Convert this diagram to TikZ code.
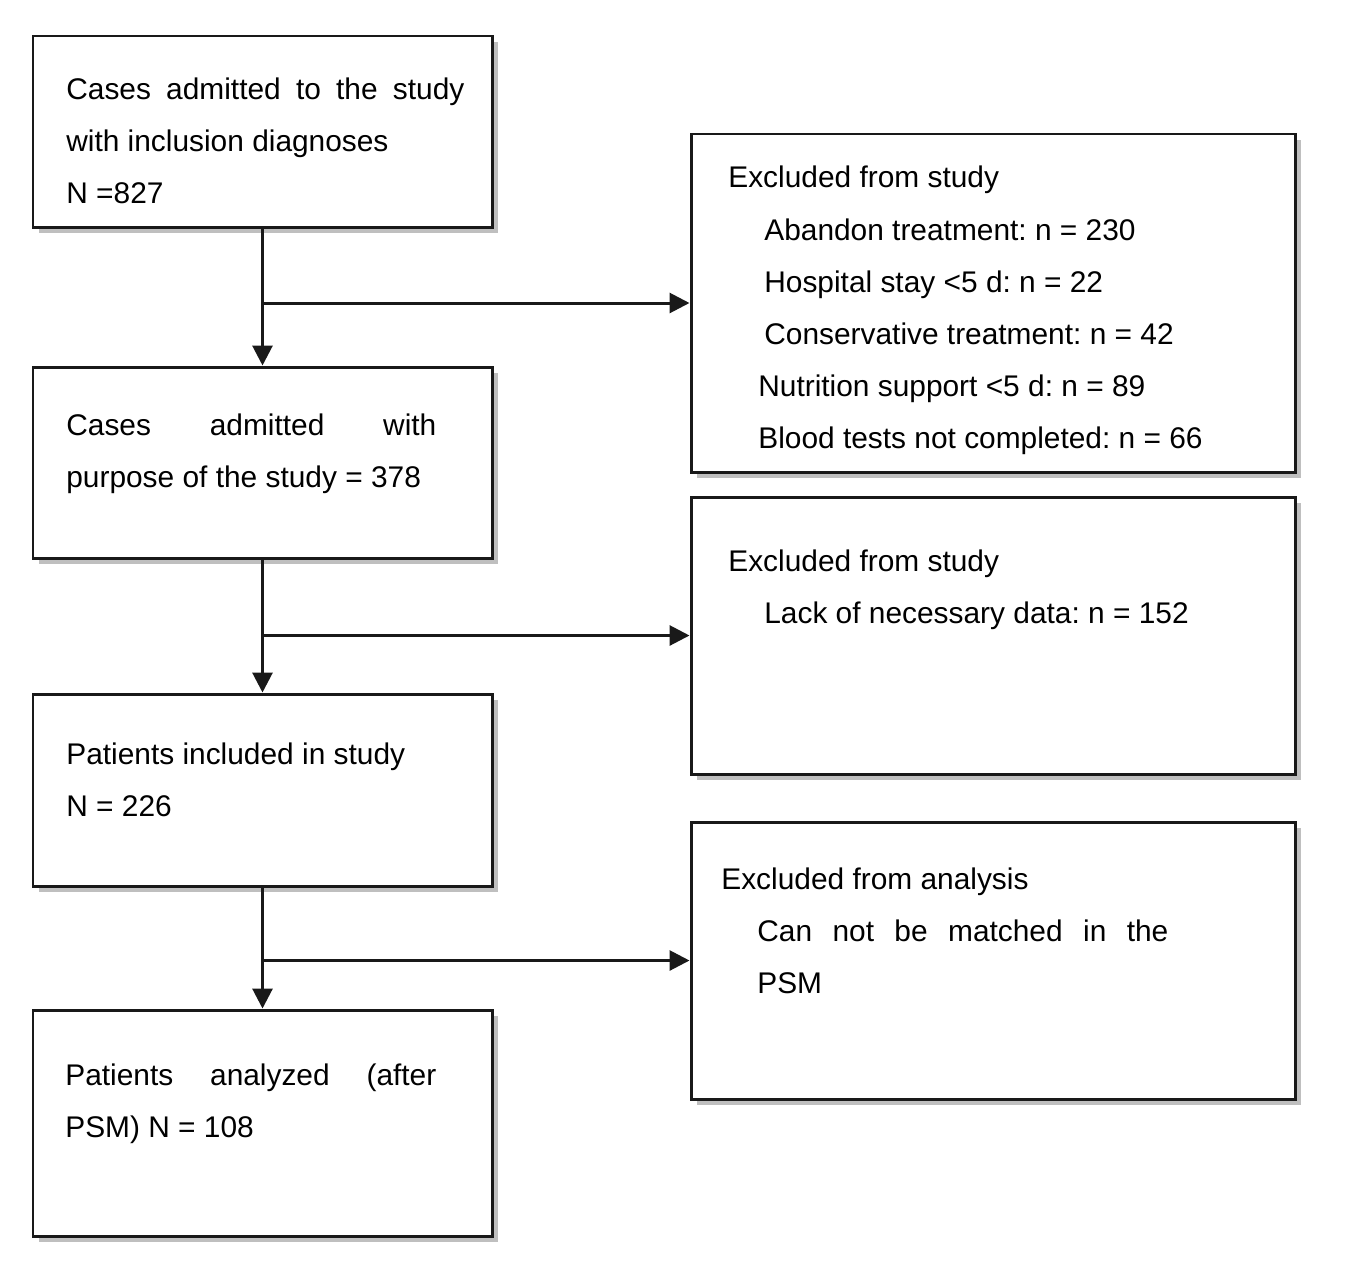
\documentclass[tikz,border=0pt]{standalone}
\usepackage{fontspec}
\setmainfont{Liberation Sans}
\usetikzlibrary{arrows.meta,shadows}
\frenchspacing

\begin{document}
\begin{tikzpicture}[x=0.2mm,y=-0.2mm,
  box/.style={rectangle,draw=black!90,line width=1.7pt,fill=white,minimum width=91.8mm,
    drop shadow={shadow xshift=1.2mm,shadow yshift=-1.2mm,opacity=0.5}},
  wide/.style={box,minimum width=120.8mm},
  txt/.style={anchor=base west,inner sep=0pt,align=left,font=\fontsize{17}{29.5}\selectfont,text=black},
  arr/.style={line width=1.7pt,draw=black!90,-{Triangle[length=4mm,width=4mm]}}]
\useasboundingbox (0,0) rectangle (1346,1286);
% left column
\node[box,minimum height=38.2mm] (B1) at (262.5,131.5) {};
\node[box,minimum height=38.2mm] (B2) at (262.5,462.5) {};
\node[box,minimum height=38.4mm] (B3) at (262.5,790) {};
\node[box,minimum height=45.2mm] (B4) at (262.5,1123) {};
% right column
\node[wide,minimum height=67.6mm] (X1) at (993,303) {};
\node[wide,minimum height=55.4mm] (X2) at (993,635.5) {};
\node[wide,minimum height=55.4mm] (X3) at (993,960.5) {};
% texts (anchored on the last line)
\node[txt] (T1) at (66,203) {\makebox[79.6mm][s]{Cases admitted to the study}\\with inclusion diagnoses\\N =827};
\node[txt] (T2) at (66,487) {\makebox[74mm][s]{Cases admitted with}\\purpose of the study = 378};
\node[txt] (T3) at (66,816) {Patients included in study\\N = 226};
\node[txt] (T4) at (65,1137) {\makebox[74.2mm][s]{Patients analyzed (after}\\PSM) N = 108};
\node[txt] (E1) at (728,187) {Excluded from study};
\node[txt] (E1a) at (764,344) {Abandon treatment: n = 230\\Hospital stay <5 d: n = 22\\Conservative treatment: n = 42};
\node[txt] (E1b) at (758,448) {Nutrition support <5 d: n = 89\\Blood tests not completed: n = 66};
\node[txt] (E2) at (728,571) {Excluded from study};
\node[txt] (E2a) at (764,623) {Lack of necessary data: n = 152};
\node[txt] (E3) at (721,889) {Excluded from analysis};
\node[txt] (E3a) at (757,993) {\makebox[82.2mm][s]{Can not be matched in the}\\PSM};
% junctions
\coordinate (J1) at (B1.south |- X1.west);
\coordinate (J2) at (B2.south |- X2.west);
\coordinate (J3) at (B3.south |- X3.west);
\draw[arr] (B1.south) -- (B2.north);
\draw[arr] (B2.south) -- (B3.north);
\draw[arr] (B3.south) -- (B4.north);
\draw[arr] (J1) -- (X1.west);
\draw[arr] (J2) -- (X2.west);
\draw[arr] (J3) -- (X3.west);
\end{tikzpicture}
\end{document}
